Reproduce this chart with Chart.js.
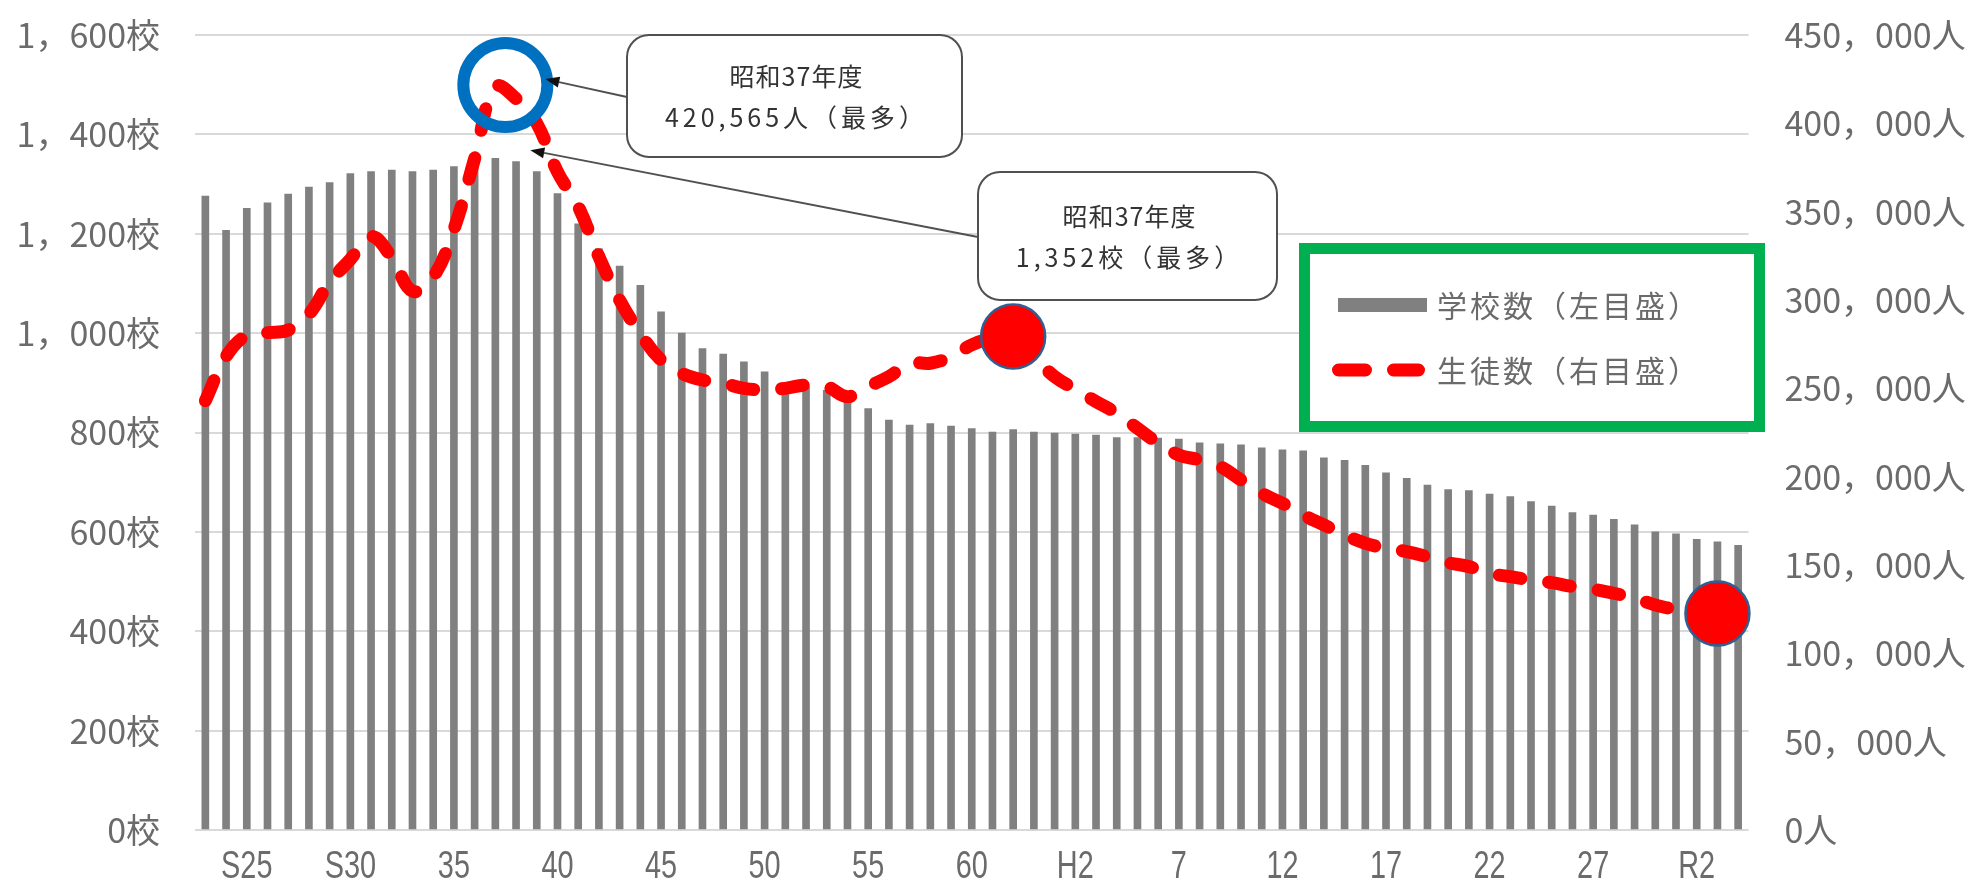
<!DOCTYPE html>
<html lang="ja">
<head>
<meta charset="utf-8">
<title>学校数と生徒数の推移</title>
<script src="https://cdn.jsdelivr.net/npm/chart.js@4.4.1/dist/chart.umd.min.js"></script>
<style>
  html, body { margin: 0; padding: 0; background: #ffffff; }
  canvas { display: block; }
</style>
</head>
<body>
<canvas id="chart" width="1978" height="886"></canvas>
<script>
// 年度（昭和23年度〜令和4年度）
const years = [
  'S23','S24','S25','S26','S27','S28','S29','S30','S31','S32',
  'S33','S34','S35','S36','S37','S38','S39','S40','S41','S42',
  'S43','S44','S45','S46','S47','S48','S49','S50','S51','S52',
  'S53','S54','S55','S56','S57','S58','S59','S60','S61','S62',
  'S63','H1','H2','H3','H4','H5','H6','H7','H8','H9',
  'H10','H11','H12','H13','H14','H15','H16','H17','H18','H19',
  'H20','H21','H22','H23','H24','H25','H26','H27','H28','H29',
  'H30','R1','R2','R3','R4'
];

// 学校数（左目盛）
const schools = [
  1276, 1207, 1251, 1262, 1280, 1294, 1303, 1321, 1325, 1328,
  1325, 1328, 1335, 1340, 1352, 1345, 1325, 1281, 1220, 1170,
  1135, 1096, 1043, 1000, 969, 958, 942, 922, 899, 892,
  885, 862, 848, 825, 815, 818, 813, 808, 801, 806,
  801, 799, 797, 795, 790, 790, 789, 787, 779, 777,
  775, 769, 765, 763, 749, 744, 734, 719, 708, 694,
  685, 683, 676, 671, 661, 652, 639, 634, 625, 614,
  600, 596, 585, 580, 573
];

// 生徒数（右目盛）
const students = [
  243000, 268000, 280000, 281500, 283000, 292000, 310000, 323000, 336000, 324000,
  305000, 313000, 340000, 380000, 420565, 414000, 400000, 372500, 353000, 324500,
  300000, 281000, 266000, 258500, 254700, 252900, 250000, 249100, 250000, 251900,
  251000, 245300, 251000, 256600, 264200, 264200, 267900, 274600, 278400, 279300,
  268000, 256600, 249500, 242500, 235900, 227400, 218900, 212300, 209500, 205700,
  198100, 190600, 184900, 178300, 172700, 167000, 162300, 159500, 157600, 154700,
  151300, 149100, 145300, 143400, 141500, 140000, 137800, 136300, 134000, 131200,
  127400, 124900, 124000, 122500, 121000
];

// 横軸に表示する年度と表記
const tickYears = ['S25','S30','S35','S40','S45','S50','S55','S60','H2','H7','H12','H17','H22','H27','R2'];
const tickTexts = ['S25','S30','35','40','45','50','55','60','H2','7','12','17','22','27','R2'];

// 丸印を付ける年度
const markedYears = ['S62', 'R3'];

const seriesNames = ['学校数（左目盛）', '生徒数（右目盛）'];

const GRAY = '#808080';
const RED = '#FF0000';
const TICK_COLOR = '#6b6b6b';
const CJK = '"Noto Sans CJK JP", "Noto Sans", sans-serif';
const Y_FONT = 34;

function withComma(v, sep) {
  return String(v).replace(/\B(?=(\d{3})+(?!\d))/g, sep);
}

function eraName(label) {
  const era = { S: '昭和', H: '平成', R: '令和' }[label[0]];
  return era + label.slice(1) + '年度';
}

// 横軸の年度表記（縦長の書体に寄せて横方向を詰めて描く）
const yearLabels = {
  id: 'yearLabels',
  afterDraw(chart) {
    const { ctx, scales: { x } } = chart;
    ctx.save();
    ctx.fillStyle = TICK_COLOR;
    ctx.font = '38px "Liberation Sans Narrow", "Liberation Sans", sans-serif';
    ctx.textAlign = 'center';
    ctx.textBaseline = 'middle';
    tickYears.forEach((label, k) => {
      const i = years.indexOf(label);
      const px = x.getPixelForValue(i);
      ctx.save();
      ctx.translate(px, x.bottom - 18);
      ctx.scale(0.76, 1);
      ctx.fillText(tickTexts[k], 0, 0);
      ctx.restore();
    });
    ctx.restore();
  }
};

const overlay = {
  id: 'overlay',
  afterDraw(chart) {
    const { ctx, scales: { x, y, y2 } } = chart;
    ctx.save();

    // 凡例
    ctx.fillStyle = '#ffffff';
    ctx.fillRect(1299, 243, 466, 189);
    ctx.strokeStyle = '#00B050';
    ctx.lineWidth = 11;
    ctx.strokeRect(1304.5, 248.5, 455, 178);

    ctx.fillStyle = GRAY;
    ctx.fillRect(1338, 298, 89, 14);

    ctx.strokeStyle = RED;
    ctx.lineWidth = 13;
    ctx.lineCap = 'round';
    ctx.beginPath();
    ctx.moveTo(1338.5, 370); ctx.lineTo(1365.5, 370);
    ctx.moveTo(1393.5, 370); ctx.lineTo(1418.5, 370);
    ctx.stroke();

    ctx.fillStyle = TICK_COLOR;
    ctx.font = '30px ' + CJK;
    ctx.letterSpacing = '3px';
    ctx.textAlign = 'left';
    ctx.textBaseline = 'middle';
    ctx.fillText(seriesNames[0], 1437, 306);
    ctx.fillText(seriesNames[1], 1437, 371);
    ctx.letterSpacing = '0px';

    // 最多年度
    const iStu = students.indexOf(Math.max(...students));
    const iSch = schools.indexOf(Math.max(...schools));
    const xStu = x.getPixelForValue(iStu);
    const yStu = y2.getPixelForValue(students[iStu]);
    const xSch = x.getPixelForValue(iSch);
    const ySch = y.getPixelForValue(schools[iSch]);

    // 青い丸
    ctx.strokeStyle = '#0070C0';
    ctx.lineWidth = 12;
    ctx.beginPath();
    ctx.arc(xStu + 10, yStu - 2, 42, 0, Math.PI * 2);
    ctx.stroke();

    // 赤い丸
    markedYears.forEach(label => {
      const i = years.indexOf(label);
      const cx = x.getPixelForValue(i);
      const cy = y2.getPixelForValue(students[i]);
      ctx.beginPath();
      ctx.arc(cx, cy, 32, 0, Math.PI * 2);
      ctx.fillStyle = RED;
      ctx.fill();
      ctx.strokeStyle = '#2F5F93';
      ctx.lineWidth = 2.5;
      ctx.stroke();
    });

    // 吹き出し
    const callouts = [
      { bx: 627, by: 35, w: 335, h: 122,
        from: [627, 97], to: [xStu + 50, yStu - 8],
        lines: [eraName(years[iStu]), withComma(students[iStu], ',') + '人（最多）'] },
      { bx: 978, by: 172, w: 299, h: 128,
        from: [978, 237], to: [xSch + 35, ySch - 8],
        lines: [eraName(years[iSch]), withComma(schools[iSch], ',') + '校（最多）'] }
    ];

    callouts.forEach(c => {
      // 矢印
      ctx.strokeStyle = '#505050';
      ctx.lineWidth = 1.8;
      ctx.lineCap = 'butt';
      const ang = Math.atan2(c.to[1] - c.from[1], c.to[0] - c.from[0]);
      const hl = 14, hw = 5.5;
      const bxp = c.to[0] - hl * Math.cos(ang), byp = c.to[1] - hl * Math.sin(ang);
      ctx.beginPath();
      ctx.moveTo(c.from[0], c.from[1]);
      ctx.lineTo(bxp, byp);
      ctx.stroke();
      ctx.fillStyle = '#111111';
      ctx.beginPath();
      ctx.moveTo(c.to[0], c.to[1]);
      ctx.lineTo(bxp + hw * Math.sin(ang), byp - hw * Math.cos(ang));
      ctx.lineTo(bxp - hw * Math.sin(ang), byp + hw * Math.cos(ang));
      ctx.closePath();
      ctx.fill();

      // 枠
      ctx.beginPath();
      ctx.roundRect(c.bx, c.by, c.w, c.h, 22);
      ctx.fillStyle = '#ffffff';
      ctx.fill();
      ctx.strokeStyle = '#505050';
      ctx.lineWidth = 2;
      ctx.stroke();

      // 文字
      ctx.fillStyle = '#333333';
      ctx.font = '25px ' + CJK;
      ctx.textAlign = 'center';
      ctx.textBaseline = 'middle';
      const cx = c.bx + c.w / 2 + 2;
      const cy = c.by + c.h / 2;
      ctx.letterSpacing = '1px';
      ctx.fillText(c.lines[0], cx, cy - 20);
      ctx.letterSpacing = '4px';
      ctx.fillText(c.lines[1], cx, cy + 21);
      ctx.letterSpacing = '0px';
    });

    ctx.restore();
  }
};

new Chart(document.getElementById('chart'), {
  type: 'bar',
  data: {
    labels: years,
    datasets: [
      {
        type: 'line',
        label: seriesNames[1],
        data: students,
        yAxisID: 'y2',
        borderColor: RED,
        borderWidth: 13,
        borderDash: [22, 28],
        borderCapStyle: 'round',
        borderJoinStyle: 'round',
        tension: 0.4,
        pointRadius: 0,
        fill: false,
        order: 0
      },
      {
        type: 'bar',
        label: seriesNames[0],
        data: schools,
        yAxisID: 'y',
        backgroundColor: GRAY,
        barThickness: 7,
        order: 1
      }
    ]
  },
  options: {
    responsive: false,
    animation: false,
    devicePixelRatio: 1,
    layout: { padding: { top: 35, left: 0, right: 0, bottom: 0 } },
    plugins: {
      legend: { display: false },
      tooltip: { enabled: false }
    },
    scales: {
      x: {
        offset: true,
        grid: { display: false, drawTicks: false },
        border: { display: false },
        ticks: { display: false },
        afterFit(scale) { scale.height = 56; }
      },
      y: {
        position: 'left',
        min: 0,
        max: 1600,
        grid: { color: '#D9D9D9', lineWidth: 2, drawTicks: true, tickLength: 35, tickColor: 'rgba(0,0,0,0)' },
        border: { display: false },
        ticks: {
          stepSize: 200,
          padding: 0,
          color: TICK_COLOR,
          font: { family: CJK, size: Y_FONT },
          callback: v => withComma(v, '，') + '校'
        },
        afterFit(scale) { scale.width = 195; }
      },
      y2: {
        position: 'right',
        min: 0,
        max: 450000,
        grid: { display: false, drawTicks: true, tickLength: 36, tickColor: 'rgba(0,0,0,0)' },
        border: { display: false },
        ticks: {
          stepSize: 50000,
          padding: 0,
          color: TICK_COLOR,
          font: { family: CJK, size: Y_FONT },
          callback: v => withComma(v, '，') + '人'
        },
        afterFit(scale) { scale.width = 229.5; }
      }
    }
  },
  plugins: [yearLabels, overlay]
});
</script>
</body>
</html>
